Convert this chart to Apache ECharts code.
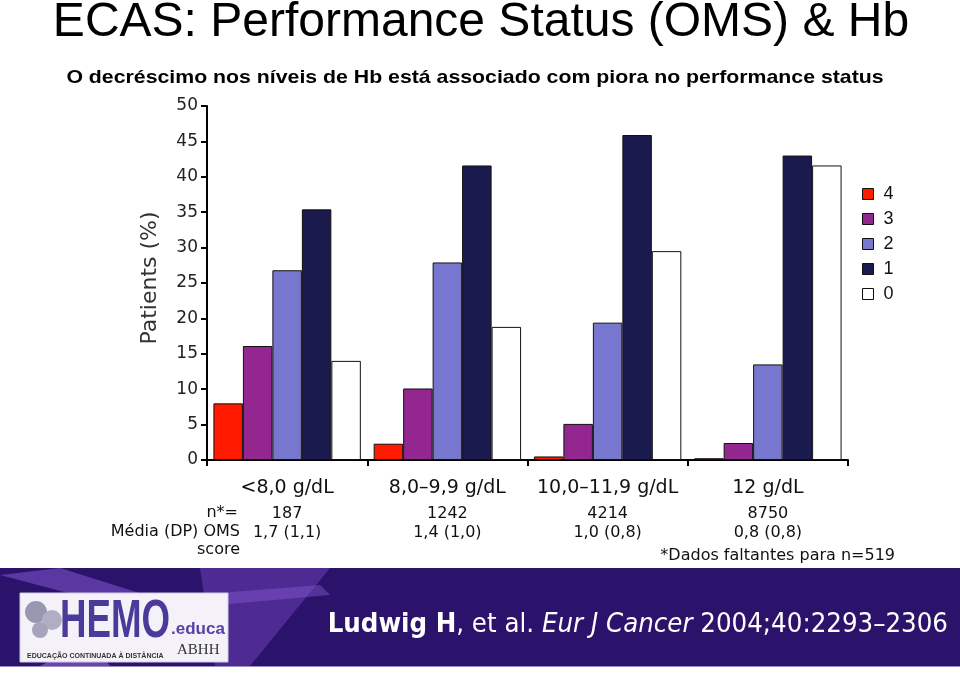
<!DOCTYPE html>
<html>
<head>
<meta charset="utf-8">
<script src="https://cdn.jsdelivr.net/npm/echarts@6/dist/echarts.min.js"></script>
<style>html,body{margin:0;padding:0;background:#fff;}#c{width:960px;height:674px;}</style>
</head>
<body>
<div id="c"></div>
<script>
var categories = ['<8,0 g/dL', '8,0\u20139,9 g/dL', '10,0\u201311,9 g/dL', '12 g/dL'];
var nValues = ['187', '1242', '4214', '8750'];
var omsValues = ['1,7 (1,1)', '1,4 (1,0)', '1,0 (0,8)', '0,8 (0,8)'];
var seriesNames = ['4', '3', '2', '1', '0'];
var grade4 = [8.0, 2.3, 0.5, 0.25];
var grade3 = [16.1, 10.1, 5.1, 2.4];
var grade2 = [26.8, 27.9, 19.4, 13.5];
var grade1 = [35.4, 41.6, 45.9, 43.0];
var grade0 = [14.0, 18.8, 29.5, 41.6];
var yTicks = [0, 50, 5];
var colors = ['#FF1A00', '#93278F', '#7777D0', '#1B1A4E', '#FFFFFF'];

var chart = echarts.init(document.getElementById('c'), null, {renderer: 'canvas'});
var verdana = 'DejaVu Sans';
var allData = [grade4, grade3, grade2, grade1, grade0];
var series = seriesNames.map(function (n, i) {
  return {
    name: n, type: 'bar', data: allData[i],
    barGap: '0%', barCategoryGap: '8%',
    itemStyle: {color: colors[i], borderColor: '#111', borderWidth: 1}
  };
});

function hiddenAxis(data, offset) {
  return {
    type: 'category', data: data, position: 'bottom', offset: offset,
    axisLine: {show: false}, axisTick: {show: false},
    axisLabel: {fontFamily: verdana, fontSize: 16, color: '#111', margin: 0, interval: 0}
  };
}

function txt(s, x, y, align, size, extra) {
  var st = {text: s, x: x, y: y, textAlign: align, textVerticalAlign: 'middle', fontFamily: verdana, fontSize: size, fill: '#111'};
  if (extra) { for (var k in extra) st[k] = extra[k]; }
  return {type: 'text', style: st};
}

chart.setOption({
  animation: false,
  legend: {
    orient: 'vertical', left: 862, top: 185, padding: 0, itemWidth: 11, itemHeight: 11, itemGap: 7,
    icon: 'rect', data: seriesNames,
    itemStyle: {borderColor: '#111', borderWidth: 1},
    textStyle: {fontFamily: 'Liberation Sans', fontSize: 18, color: '#111', padding: [0, 0, 0, 5]}
  },
  grid: {left: 207, right: 112, top: 106, bottom: 214, containLabel: false},
  xAxis: [
    {
      type: 'category', data: categories,
      axisLine: {show: true, lineStyle: {color: '#000', width: 2}},
      axisTick: {show: true, length: 6, interval: 0, lineStyle: {color: '#000', width: 2}},
      axisLabel: {fontFamily: verdana, fontSize: 19, color: '#111', margin: 19, interval: 0}
    },
    hiddenAxis(nValues, 46),
    hiddenAxis(omsValues, 65)
  ],
  yAxis: {
    type: 'value', min: yTicks[0], max: yTicks[1], interval: yTicks[2],
    name: 'Patients (%)', nameLocation: 'middle', nameRotate: 90, nameGap: 46,
    nameTextStyle: {fontFamily: verdana, fontSize: 22, color: '#333', padding: [0, 0, 0, 10]},
    axisLine: {show: true, lineStyle: {color: '#000', width: 2}},
    axisTick: {show: true, length: 6, lineStyle: {color: '#000', width: 2}},
    axisLabel: {fontFamily: verdana, fontSize: 17, color: '#222', margin: 9},
    splitLine: {show: false}
  },
  series: series.concat([
    {type: 'bar', xAxisIndex: 1, data: [], silent: true},
    {type: 'bar', xAxisIndex: 2, data: [], silent: true}
  ]),
  graphic: [
    {type: 'text', style: {text: 'ECAS: Performance Status (OMS) & Hb', x: 481, y: 23, textAlign: 'center', textVerticalAlign: 'middle',
      fontFamily: 'Liberation Sans', fontSize: 48, fill: '#000'}},
    {type: 'text', x: 475, y: 78, scaleX: 1.12, style: {text: 'O decr\u00e9scimo nos n\u00edveis de Hb est\u00e1 associado com piora no performance status',
      x: 0, y: 0, textAlign: 'center', textVerticalAlign: 'middle', fontFamily: 'Liberation Sans', fontWeight: 'bold', fontSize: 19, fill: '#000'}},
    txt('n*=', 238, 513, 'right', 16),
    txt('M\u00e9dia (DP) OMS', 240, 532, 'right', 16),
    txt('score', 240, 550, 'right', 16),
    txt('*Dados faltantes para n=519', 895, 556, 'right', 16),
    {type: 'rect', shape: {x: 0, y: 568, width: 960, height: 98}, style: {fill: '#2B136B'}},
    {type: 'rect', shape: {x: 0, y: 666, width: 960, height: 1}, style: {fill: '#9a8cc8'}},
    {type: 'polygon', shape: {points: [[0, 575], [60, 568], [200, 612], [170, 620]]}, style: {fill: 'rgba(150,100,230,0.45)'}},
    {type: 'polygon', shape: {points: [[130, 600], [320, 585], [330, 595], [140, 612]]}, style: {fill: 'rgba(160,110,235,0.35)'}},
    {type: 'polygon', shape: {points: [[200, 568], [330, 568], [250, 666], [215, 666]]}, style: {fill: 'rgba(140,90,220,0.35)'}},
    {type: 'polygon', shape: {points: [[40, 666], [90, 640], [110, 666]]}, style: {fill: 'rgba(170,120,240,0.5)'}},
    {type: 'rect', shape: {x: 20, y: 593, width: 208, height: 69}, style: {fill: '#f4f2f8', stroke: '#cfc8e0', lineWidth: 1}},
    {type: 'circle', shape: {cx: 36, cy: 612, r: 11}, style: {fill: '#9a98b0'}},
    {type: 'circle', shape: {cx: 52, cy: 620, r: 10}, style: {fill: '#b0aec4'}},
    {type: 'circle', shape: {cx: 40, cy: 630, r: 8}, style: {fill: '#a6a4ba'}},
    {type: 'text', x: 60, y: 595, scaleX: 0.68, style: {text: 'HEMO', x: 0, y: 0, fontFamily: 'Liberation Sans', fontWeight: 'bold', fontSize: 54, fill: '#4a3a9a'}},
    {type: 'text', style: {text: '.educa', x: 171, y: 621, fontFamily: 'Liberation Sans', fontWeight: 'bold', fontSize: 17, fill: '#5a3fa8'}},
    {type: 'text', style: {text: 'ABHH', x: 177, y: 643, fontFamily: 'Liberation Serif', fontSize: 15, fill: '#333'}},
    {type: 'text', style: {text: 'EDUCA\u00c7\u00c3O CONTINUADA \u00c0 DIST\u00c2NCIA', x: 27, y: 653, fontFamily: 'Liberation Sans', fontWeight: 'bold', fontSize: 7, fill: '#333'}},
    {type: 'text', x: 948, y: 625, scaleX: 0.91, style: {
      x: 0, y: 0, textAlign: 'right', textVerticalAlign: 'middle',
      text: '{b|Ludwig H}{n|, et al. }{i|Eur J Cancer}{n| 2004;40:2293\u20132306}',
      rich: {
        b: {fontFamily: verdana, fontSize: 27, fontWeight: 'bold', fill: '#fff'},
        n: {fontFamily: verdana, fontSize: 27, fill: '#fff'},
        i: {fontFamily: verdana, fontSize: 27, fontStyle: 'italic', fill: '#fff'}
      }
    }}
  ]
});
</script>
</body>
</html>
